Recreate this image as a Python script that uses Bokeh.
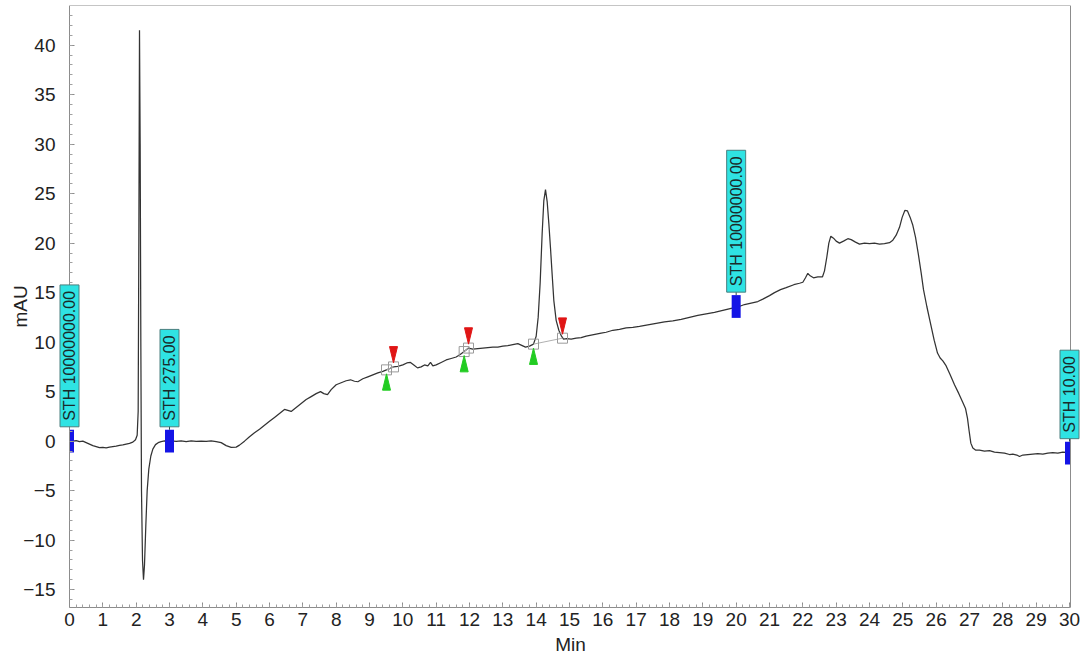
from bokeh.plotting import figure
from bokeh.models import Range1d, FixedTicker, Label, LinearAxis
from bokeh.embed import file_html
from bokeh.resources import INLINE

# Chromatogram trace: retention time (min) and detector signal (mAU)
TIME = [
    0.00, 0.10, 0.20, 0.30, 0.40, 0.50, 0.60, 0.70, 0.80, 0.90,
    1.00, 1.10, 1.20, 1.30, 1.40, 1.50, 1.60, 1.70, 1.80, 1.90,
    1.98, 2.03, 2.06, 2.08, 2.10, 2.12, 2.14, 2.16, 2.19, 2.22,
    2.25, 2.29, 2.33, 2.38, 2.44, 2.50, 2.58, 2.66, 2.75, 2.85,
    2.95, 3.05, 3.20, 3.35, 3.50, 3.65, 3.80, 3.95, 4.10, 4.25,
    4.40, 4.55, 4.70, 4.85, 5.00, 5.10, 5.25, 5.40, 5.55, 5.70,
    5.85, 6.00, 6.15, 6.30, 6.45, 6.55, 6.65, 6.80, 6.95, 7.10,
    7.25, 7.40, 7.53, 7.63, 7.74, 7.85, 8.00, 8.15, 8.30, 8.43,
    8.55, 8.65, 8.80, 8.95, 9.10, 9.25, 9.40, 9.51, 9.62, 9.72,
    9.85, 10.00, 10.12, 10.23, 10.33, 10.44, 10.55, 10.65, 10.75, 10.83,
    10.90, 11.00, 11.15, 11.30, 11.45, 11.60, 11.72, 11.84, 11.97, 12.10,
    12.25, 12.40, 12.55, 12.70, 12.85, 13.00, 13.15, 13.30, 13.45, 13.55,
    13.68, 13.80, 13.92, 14.00, 14.06, 14.12, 14.18, 14.23, 14.28, 14.33,
    14.38, 14.43, 14.48, 14.53, 14.60, 14.68, 14.76, 14.82, 14.92, 15.05,
    15.20, 15.35, 15.50, 15.65, 15.80, 15.95, 16.10, 16.30, 16.50, 16.70,
    16.90, 17.10, 17.35, 17.60, 17.85, 18.10, 18.35, 18.60, 18.85, 19.10,
    19.35, 19.60, 19.85, 20.05, 20.25, 20.45, 20.65, 20.80, 21.00, 21.15,
    21.33, 21.50, 21.73, 21.90, 22.00, 22.08, 22.15, 22.22, 22.32, 22.45,
    22.59, 22.65, 22.72, 22.78, 22.84, 22.92, 23.00, 23.10, 23.22, 23.35,
    23.45, 23.58, 23.70, 23.85, 24.00, 24.15, 24.30, 24.45, 24.60, 24.70,
    24.80, 24.90, 24.98, 25.06, 25.14, 25.22, 25.30, 25.38, 25.46, 25.55,
    25.62, 25.72, 25.83, 25.94, 26.04, 26.12, 26.20, 26.30, 26.42, 26.55,
    26.68, 26.80, 26.88, 26.94, 26.99, 27.04, 27.10, 27.18, 27.30, 27.45,
    27.60, 27.75, 27.90, 28.05, 28.20, 28.30, 28.42, 28.50, 28.60, 28.75,
    28.90, 29.05, 29.20, 29.35, 29.50, 29.65, 29.80, 30.00,
]
SIGNAL = [
    0.05, 0.00, 0.05, -0.05, 0.00, -0.15, -0.30, -0.45, -0.55, -0.65,
    -0.62, -0.68, -0.60, -0.55, -0.50, -0.42, -0.38, -0.30, -0.22, -0.10,
    0.15, 0.60, 3.00, 20.0, 41.5, 30.0, 10.0, -5.0, -12.0, -14.0,
    -12.5, -8.5, -5.0, -2.8, -1.5, -0.8, -0.35, -0.15, -0.05, 0.02,
    -0.02, 0.03, -0.03, 0.02, -0.04, 0.03, -0.02, 0.01, -0.03, 0.02,
    -0.05, -0.15, -0.45, -0.62, -0.60, -0.40, 0.00, 0.45, 0.85, 1.20,
    1.60, 2.00, 2.40, 2.80, 3.20, 3.10, 3.00, 3.40, 3.80, 4.20,
    4.50, 4.80, 5.00, 4.80, 4.70, 5.20, 5.70, 5.90, 6.10, 6.20,
    6.05, 6.00, 6.30, 6.50, 6.70, 6.90, 7.05, 7.20, 7.35, 7.50,
    7.55, 7.70, 7.90, 7.95, 7.70, 7.40, 7.50, 7.70, 7.60, 7.95,
    7.60, 7.70, 7.95, 8.20, 8.35, 8.50, 8.75, 9.05, 9.40, 9.30,
    9.35, 9.40, 9.45, 9.50, 9.50, 9.60, 9.65, 9.75, 9.85, 9.70,
    9.50, 9.60, 9.80, 10.6, 12.5, 16.0, 21.0, 24.3, 25.4, 24.2,
    22.0, 19.5, 16.8, 14.2, 12.2, 11.2, 10.6, 10.3, 10.35, 10.3,
    10.4, 10.45, 10.6, 10.7, 10.8, 10.9, 11.0, 11.2, 11.3, 11.45,
    11.5, 11.6, 11.75, 11.9, 12.05, 12.15, 12.3, 12.5, 12.7, 12.85,
    13.0, 13.2, 13.4, 13.55, 13.8, 13.95, 14.1, 14.35, 14.7, 15.0,
    15.3, 15.5, 15.8, 15.95, 16.05, 16.5, 16.95, 16.7, 16.5, 16.6,
    16.6, 17.2, 18.6, 20.0, 20.7, 20.5, 20.2, 20.0, 20.2, 20.45,
    20.35, 20.1, 19.9, 20.0, 19.95, 20.0, 19.9, 19.95, 20.05, 20.3,
    20.8, 21.6, 22.6, 23.3, 23.25, 22.6, 21.8, 20.6, 19.0, 17.0,
    15.3, 13.6, 11.9, 10.2, 8.9, 8.4, 8.1, 7.6, 6.7, 5.7,
    4.8, 3.9, 3.3, 2.3, 1.0, -0.2, -0.7, -0.9, -0.9, -1.0,
    -0.95, -1.1, -1.15, -1.2, -1.35, -1.3, -1.4, -1.55, -1.4, -1.35,
    -1.3, -1.25, -1.3, -1.2, -1.15, -1.2, -1.1, -1.15,
]

# Timed events (threshold changes)
EVENT_TIME = [0.0, 3.0, 20.0, 30.0]
EVENT_VALUE = [0.0, 0.0, 13.6, -1.2]
EVENT_TEXT = ["STH 10000000.00", "STH 275.00", "STH 10000000.00", "STH 10.00"]

# Integrated peaks: start and end points of each baseline
PEAK_START_TIME = [9.51, 11.84, 13.92]
PEAK_START_VALUE = [7.2, 9.05, 9.8]
PEAK_END_TIME = [9.72, 11.97, 14.79]
PEAK_END_VALUE = [7.5, 9.4, 10.4]

X_TICKS = list(range(0, 31))
Y_TICKS = list(range(-15, 41, 5))

T_MIN, T_MAX = 0.0, 30.03      # run window shown by the axes
Y_MIN, Y_MAX = -16.8, 44.0

# The plotting frame is a little wider than the run window so that the
# event tags at the very start and end are not cut off.
p = figure(
    width=1087, height=660,
    x_range=Range1d(-0.39, 30.45), y_range=Range1d(Y_MIN, Y_MAX),
    output_backend="svg", toolbar_location=None,
    min_border_left=56, min_border_right=3, min_border_top=5, min_border_bottom=53,
    background_fill_color="white", border_fill_color="white",
)
p.grid.visible = False
p.outline_line_color = None

AXIS_COLOR = "#8c8c8c"
LABEL_COLOR = "#222222"

# x axis along the bottom of the run window
xax = p.xaxis[0]
xax.ticker = FixedTicker(ticks=X_TICKS, minor_ticks=[t / 5 for t in range(0, 151)])
xax.bounds = (T_MIN, T_MAX)
xax.axis_line_color = AXIS_COLOR
xax.major_tick_line_color = AXIS_COLOR
xax.minor_tick_line_color = "#a0a0a0"
xax.major_tick_in = 5
xax.major_tick_out = 0
xax.minor_tick_in = 3
xax.minor_tick_out = 0
xax.axis_label = "Min"
xax.major_label_text_color = LABEL_COLOR
xax.major_label_text_font = "Liberation Sans"
xax.major_label_text_font_size = "19px"
xax.major_label_standoff = 5
xax.axis_label_text_color = LABEL_COLOR
xax.axis_label_text_font = "Liberation Sans"
xax.axis_label_text_font_size = "19px"
xax.axis_label_text_font_style = "normal"
xax.axis_label_standoff = 5

# y tick labels and title sit in the left border
yax = p.yaxis[0]
yax.ticker = FixedTicker(ticks=Y_TICKS)
yax.axis_line_color = None
yax.major_tick_line_color = None
yax.minor_tick_line_color = None
yax.major_tick_in = 0
yax.major_tick_out = 0
yax.axis_label = "mAU"
yax.major_label_text_color = LABEL_COLOR
yax.major_label_text_font = "Liberation Sans"
yax.major_label_text_font_size = "19px"
yax.major_label_standoff = 1
yax.axis_label_text_color = LABEL_COLOR
yax.axis_label_text_font = "Liberation Sans"
yax.axis_label_text_font_size = "19px"
yax.axis_label_text_font_style = "normal"
yax.axis_label_standoff = -11

# y axis line and ticks at t = 0
y_line = LinearAxis(
    fixed_location=T_MIN,
    ticker=FixedTicker(ticks=Y_TICKS, minor_ticks=list(range(-16, 44))),
    axis_line_color=AXIS_COLOR, major_tick_line_color=AXIS_COLOR,
    minor_tick_line_color="#a0a0a0",
    major_tick_in=5, major_tick_out=0, minor_tick_in=3, minor_tick_out=0,
    major_label_text_color=None,
)
p.add_layout(y_line, "left")

# plain top and right edges of the run window
top_edge = LinearAxis(fixed_location=Y_MAX, bounds=(T_MIN, T_MAX),
                      ticker=FixedTicker(ticks=[]),
                      major_tick_line_color=None, minor_tick_line_color=None,
                      major_label_text_color=None, axis_line_color=AXIS_COLOR)
right_edge = LinearAxis(fixed_location=T_MAX,
                        ticker=FixedTicker(ticks=[]),
                        major_tick_line_color=None, minor_tick_line_color=None,
                        major_label_text_color=None, axis_line_color=AXIS_COLOR)
p.add_layout(top_edge, "above")
p.add_layout(right_edge, "right")

# signal trace
p.line(TIME, SIGNAL, line_color="#333333", line_width=1.25)

# integration baselines and start/end markers
p.segment(x0=PEAK_START_TIME, y0=PEAK_START_VALUE, x1=PEAK_END_TIME, y1=PEAK_END_VALUE,
          line_color="#b0b0b0", line_width=1)
p.scatter(PEAK_START_TIME + PEAK_END_TIME, PEAK_START_VALUE + PEAK_END_VALUE,
          marker="square", size=10, fill_color=None, line_color="#9a9a9a", line_width=1)

half_w = 0.12   # minutes
gap = 0.4       # mAU between point and triangle tip
tri_h = 1.65    # mAU
p.patches(
    xs=[[t - half_w, t + half_w, t] for t in PEAK_START_TIME],
    ys=[[v - gap - tri_h, v - gap - tri_h, v - gap] for v in PEAK_START_VALUE],
    fill_color="#22cc22", line_color="#22cc22",
)
p.patches(
    xs=[[t - half_w, t + half_w, t] for t in PEAK_END_TIME],
    ys=[[v + gap + tri_h, v + gap + tri_h, v + gap] for v in PEAK_END_VALUE],
    fill_color="#e01515", line_color="#e01515",
)

# event markers: blue bar on the trace (kept inside the run window),
# a short leader and a rotated tag above
bar_half_w = 0.135
bar_h = 2.3
p.quad(left=[max(t - bar_half_w, T_MIN) for t in EVENT_TIME],
       right=[min(t + bar_half_w, T_MAX) for t in EVENT_TIME],
       bottom=[v - bar_h / 2 for v in EVENT_VALUE],
       top=[v + bar_h / 2 for v in EVENT_VALUE],
       fill_color="#1414e6", line_color=None)

tag_gap = 0.3
p.segment(x0=EVENT_TIME, y0=[v + bar_h / 2 for v in EVENT_VALUE],
          x1=EVENT_TIME, y1=[v + bar_h / 2 + tag_gap + 0.6 for v in EVENT_VALUE],
          line_color="#2a4a4a", line_width=1)

for t, v, txt in zip(EVENT_TIME, EVENT_VALUE, EVENT_TEXT):
    p.add_layout(Label(
        x=t, y=v + bar_h / 2 + tag_gap, text=txt,
        angle=90, angle_units="deg",
        text_align="left", text_baseline="middle",
        text_font="Liberation Sans", text_font_size="16px", text_color="#1a2a2a",
        background_fill_color="#2fe3e3", background_fill_alpha=1.0,
        border_line_color="#4a7f7f", border_line_width=1,
        padding=(6, 6, 1, 1),
    ))

open("out.html", "w").write(file_html(p, INLINE))
